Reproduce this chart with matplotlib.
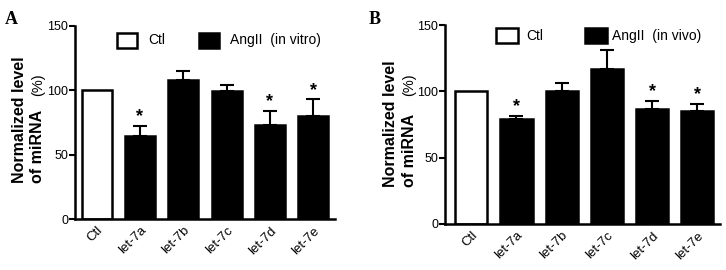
import matplotlib.pyplot as plt

# data
groups = ['Ctl', 'let-7a', 'let-7b', 'let-7c', 'let-7d', 'let-7e']
vitro_mean = [100, 64.5, 108, 99.7, 73, 80.3]
vitro_err = [0, 7.8, 6.8, 4.3, 11, 12.7]
vitro_sig = [False, True, False, False, True, True]
vivo_mean = [100, 78.9, 100.5, 116.6, 86.9, 85.2]
vivo_err = [0, 2.5, 5.5, 14.4, 6.1, 5.2]
vivo_sig = [False, True, False, False, True, True]
yticks = [0, 50, 100, 150]

plt.rcParams['font.family'] = ['Liberation Sans', 'DejaVu Sans']

W, H = 726, 270
fig = plt.figure(figsize=(W / 100, H / 100), dpi=100)
ax1 = fig.add_axes([75/W, 51/H, 260/W, 193/H])
ax2 = fig.add_axes([445/W, 46/H, 275/W, 199/H])


def panel(ax, means, errs, sig, cond, width, xlim, leg_pos):
    x = list(range(len(groups)))
    colors = ['white'] + ['black'] * (len(groups) - 1)
    ax.bar(x, means, width=width, color=colors, edgecolor='black', linewidth=1.8)
    lower = [0] * len(errs)
    ax.errorbar(x[1:], means[1:], yerr=[lower[1:], errs[1:]], fmt='none',
                ecolor='black', elinewidth=1.5, capsize=5, capthick=1.5)
    for i in x:
        if sig[i]:
            ax.text(i, means[i] + errs[i] + 0.5, '*', ha='center', va='bottom',
                    fontsize=13, fontweight='bold')
    ax.set_xlim(*xlim)
    ax.set_ylim(0, 150)
    ax.set_yticks(yticks)
    ax.set_xticks(x)
    ax.set_xticklabels(groups, rotation=45, ha='right', rotation_mode='anchor',
                       fontsize=9.5)
    ax.tick_params(axis='x', length=0, pad=4)
    ax.tick_params(axis='y', length=4, width=1.5, labelsize=9, pad=1)
    for s in ['top', 'right']:
        ax.spines[s].set_visible(False)
    for s in ['left', 'bottom']:
        ax.spines[s].set_linewidth(1.8)
    # legend boxes
    bx, tx, bx2, tx2, ly, bw = leg_pos
    for bxx, fc in [(bx, 'white'), (bx2, 'black')]:
        ax.add_patch(plt.Rectangle((bxx, ly - 5.8), bw, 11.6, facecolor=fc,
                                   edgecolor='black', linewidth=1.8,
                                   clip_on=False))
    ax.text(tx, ly, 'Ctl', ha='left', va='center', fontsize=10)
    ax.text(tx2, ly, 'AngII  ' + cond, ha='left', va='center', fontsize=10)


def ylabel(x1, x2, ybot, ypct):
    # two-line y label, positions in pixels from top-left
    fig.text(x1 / W, 1 - ybot / H, 'Normalized level', rotation=90,
             ha='center', va='bottom', fontsize=11.5, fontweight='bold')
    fig.text(x2 / W, 1 - ybot / H, 'of miRNA', rotation=90,
             ha='center', va='bottom', fontsize=11.5, fontweight='bold')
    fig.text(x2 / W, 1 - ypct / H, '(%)', rotation=90,
             ha='center', va='bottom', fontsize=10.5)


panel(ax1, vitro_mean, vitro_err, vitro_sig, '(in vitro)', 0.69, (-0.5, 5.5),
      (0.47, 1.19, 2.36, 3.08, 139, 0.46))
panel(ax2, vivo_mean, vivo_err, vivo_sig, '(in vivo)', 0.71, (-0.58, 5.5),
      (0.55, 1.22, 2.52, 3.12, 142, 0.49))

ylabel(20, 38, 183, 96)
ylabel(391, 409, 187, 96)

fig.text(5/W, 1 - 20/H, 'A', fontsize=13, fontweight='bold',
         family='Liberation Serif', va='center')
fig.text(369/W, 1 - 20/H, 'B', fontsize=13, fontweight='bold',
         family='Liberation Serif', va='center')

plt.savefig('out.png', dpi=100)
